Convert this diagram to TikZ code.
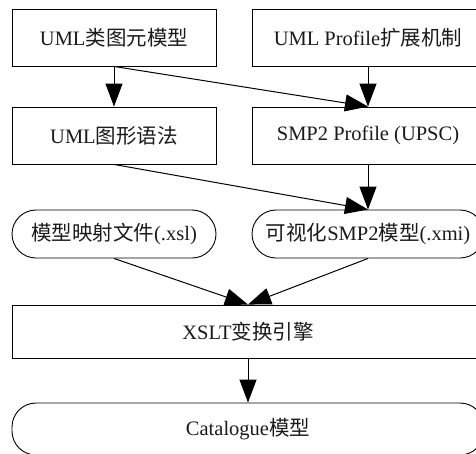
\documentclass[tikz,border=0pt]{standalone}
\usepackage{fontspec}
\setmainfont{Liberation Serif}
\newfontfamily\cjk{Noto Sans CJK SC}
\usetikzlibrary{calc,positioning,arrows.meta}
\definecolor{flowtext}{HTML}{1A1A1A}
\tikzset{
  procbox/.style={draw, line width=0.9pt, minimum width=204pt, minimum height=57pt,
    inner sep=0pt, text=flowtext, font=\fontsize{20.5}{22}\selectfont},
  filebox/.style={procbox, rounded corners=24pt, minimum height=48pt},
  flow/.style={-{Triangle[length=23pt,width=17pt]}, line width=1pt},
}

\begin{document}
\begin{tikzpicture}[x=1pt, y=-1pt]
  \useasboundingbox (0,0) rectangle (476,453);
  \clip (0,0) rectangle (476,453);
  \node[procbox] (umlclass) at (114,37.5) {UML{\cjk 类图元模型}};
  \node[procbox, minimum width=232pt] (umlprofile) at (368,37.5) {UML Profile{\cjk 扩展机制}};
  \node[procbox] (umlsyntax) at (114,135.5) {UML{\cjk 图形语法}};
  \node[procbox, minimum width=232pt] (upsc) at (368,135.5) {SMP2 Profile (UPSC)};
  \node[filebox] (mapfile) at (114,234) {{\cjk 模型映射文件}(.xsl)};
  \node[filebox, minimum width=232pt] (smpmodel) at (368,234) {{\cjk 可视化}SMP2{\cjk 模型}(.xmi)};
  \node[procbox, minimum width=472pt, minimum height=53pt] (xslt) at (248,331.5) {XSLT{\cjk 变换引擎}};
  \node[filebox, minimum width=472pt, minimum height=52pt] (catalogue) at (248,429) {Catalogue{\cjk 模型}};
  \draw[flow] (umlclass.south) -- (umlsyntax.north);
  \draw[flow] (umlclass.south) -- (upsc.north);
  \draw[flow] (umlprofile.south) -- (upsc.north);
  \draw[flow] (umlsyntax.south) -- (smpmodel.north);
  \draw[flow] (upsc.south) -- (smpmodel.north);
  \draw[flow] (mapfile.south) -- (xslt.north);
  \draw[flow] (smpmodel.south) -- (xslt.north);
  \draw[flow] (xslt) -- (catalogue);
\end{tikzpicture}
\end{document}
